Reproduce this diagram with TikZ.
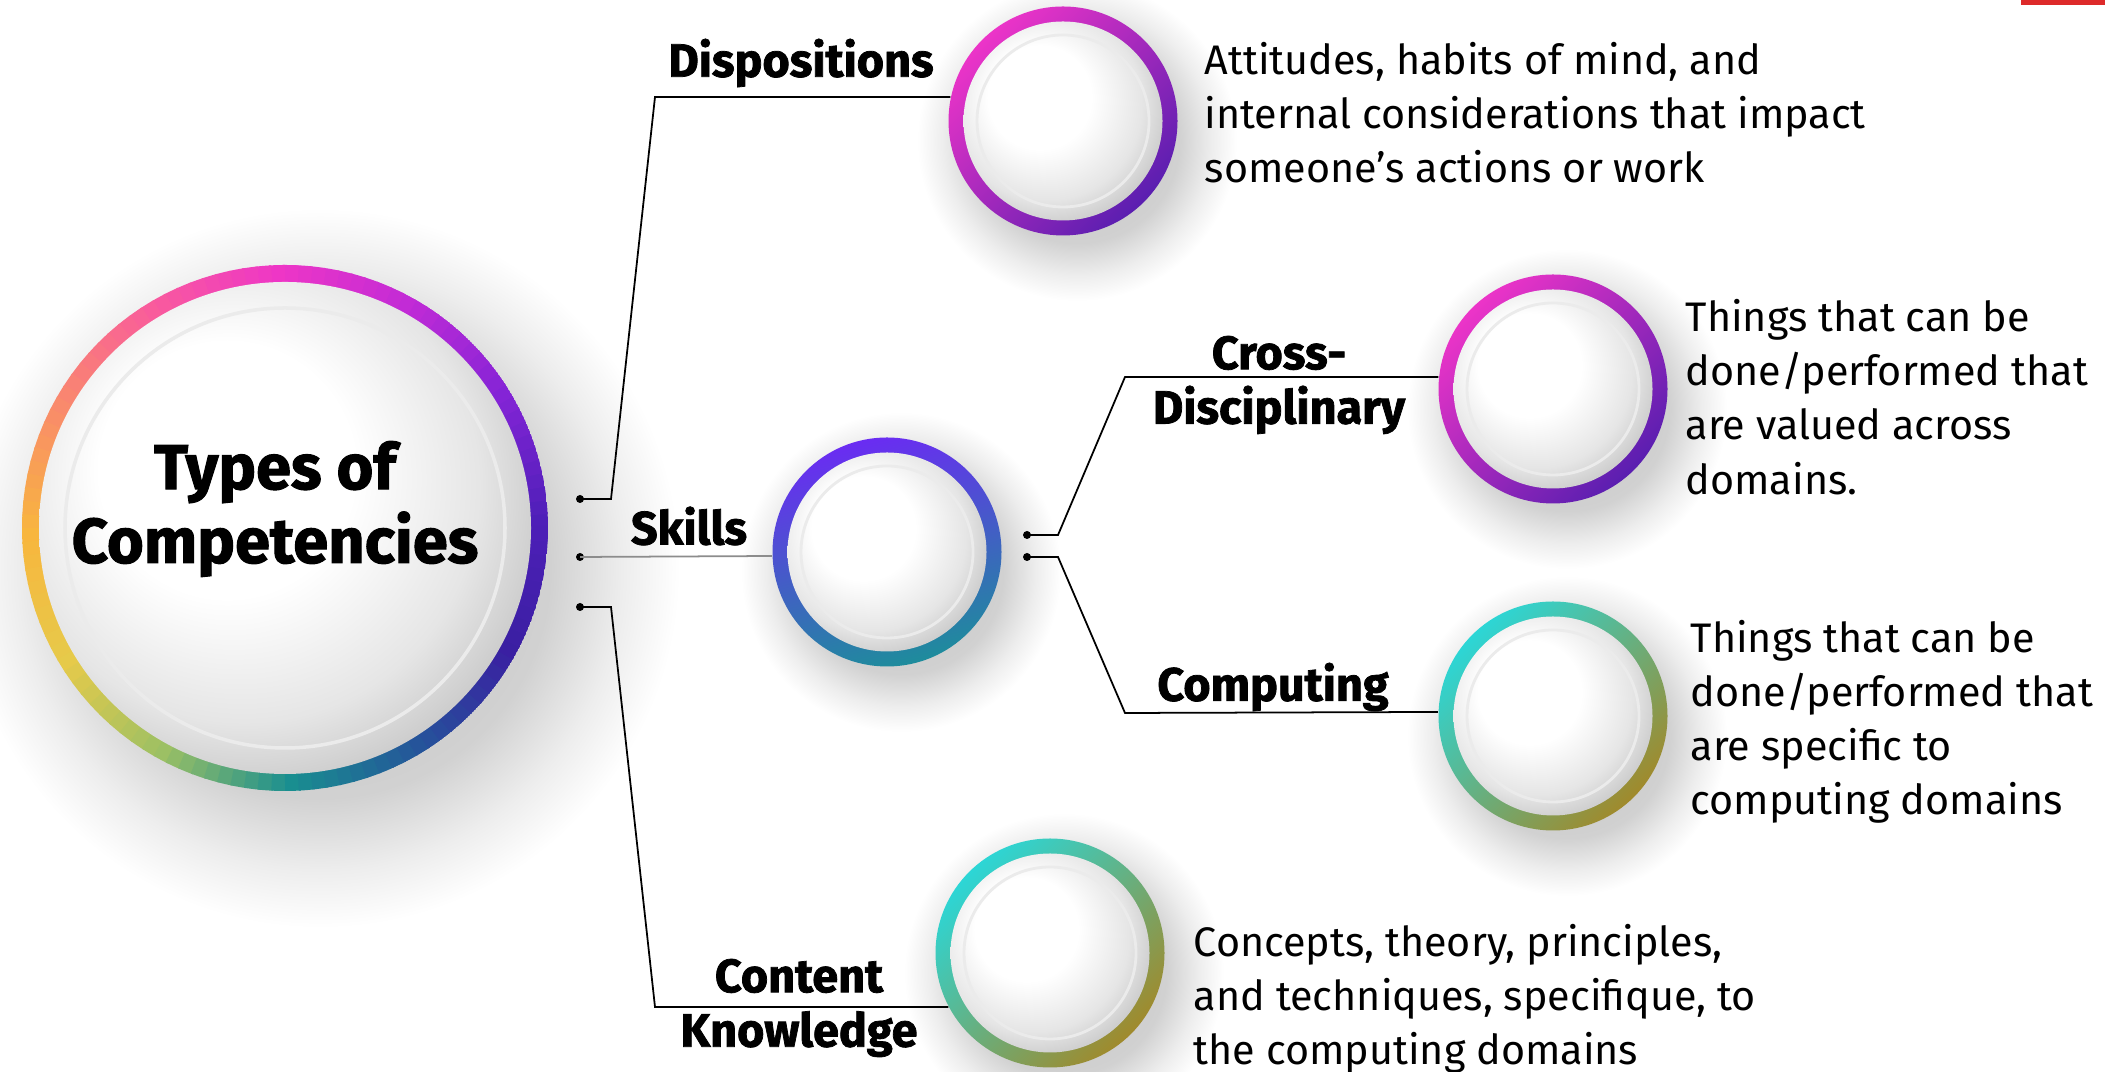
\documentclass[tikz,border=0pt]{standalone}
\usepackage{fontspec}
\setmainfont{Fira Sans}
\newfontfamily\heavyfont{Fira Sans}[FakeBold=1.6]
\usetikzlibrary{backgrounds}

% colours round the big ring, one every 30 degrees
\definecolor{ring0}{HTML}{4E1FB8}
\definecolor{ring1}{HTML}{8424D6}
\definecolor{ring2}{HTML}{C22BD6}
\definecolor{ring3}{HTML}{EE36C6}
\definecolor{ring4}{HTML}{F95C9C}
\definecolor{ring5}{HTML}{F98A6C}
\definecolor{ring6}{HTML}{F8B63E}
\definecolor{ring7}{HTML}{E6CA4A}
\definecolor{ring8}{HTML}{9CC064}
\definecolor{ring9}{HTML}{198E90}
\definecolor{ring10}{HTML}{25549A}
\definecolor{ring11}{HTML}{3A1FA2}
\colorlet{ring12}{ring0}

% small rings
\definecolor{pinkA}{HTML}{EC34C8}
\definecolor{pinkB}{HTML}{A02AD8}
\definecolor{pinkC}{HTML}{5A1EB0}
\definecolor{blueA}{HTML}{6A2CF2}
\definecolor{blueB}{HTML}{4476E2}
\definecolor{blueC}{HTML}{1E8C9C}
\definecolor{tealA}{HTML}{2CD6D6}
\definecolor{tealB}{HTML}{A8C862}
\definecolor{tealC}{HTML}{A08A2C}
\definecolor{redbar}{HTML}{DD2A2A}

\pgfdeclareradialshading{balldisk}{\pgfpoint{-8bp}{8bp}}{color(0bp)=(white); color(13bp)=(white); color(24bp)=(black!10); color(32bp)=(black!24); color(50bp)=(black!24)}
\pgfdeclareradialshading{ballshadow}{\pgfpoint{0bp}{0bp}}{color(0bp)=(black!24); color(16bp)=(black!18); color(21bp)=(black!7); color(25bp)=(white); color(50bp)=(white)}

\begin{document}
\begin{tikzpicture}[
    bubble/.style n args={4}{circle, inner sep=0pt, minimum size=2.29cm, path picture={
        \shade[top color=#1, middle color=#2, bottom color=#3, shading angle=#4]
          (path picture bounding box.center) circle (1.145);
        \shade[shading=balldisk] (path picture bounding box.center) circle (0.995);
        \draw[black!8, line width=0.8pt] (path picture bounding box.center) circle (0.86);
      }},
    bigbubble/.style={circle, inner sep=0pt, minimum size=5.26cm, path picture={
        \foreach \i in {0,...,11}{
          \pgfmathtruncatemacro{\k}{\i+1}
          \foreach \j in {0,...,9}{
            \pgfmathtruncatemacro{\p}{100-10*\j}
            \draw[color=ring\i!\p!ring\k, line width=0.18cm]
              ([shift={(\i*30+\j*3:2.54)}]path picture bounding box.center)
              arc[start angle=\i*30+\j*3, delta angle=3.5, radius=2.54];
          }
        }
        \shade[shading=balldisk] (path picture bounding box.center) circle (2.46);
        \draw[black!8, line width=1pt] (path picture bounding box.center) circle (2.2);
      }},
    dot/.style={circle, fill=black, inner sep=0pt, minimum size=0.08cm},
    link/.style={line width=0.5pt},
    lbl/.style={font=\heavyfont\bfseries\fontsize{13.3}{15.5}\selectfont, align=center},
    desc/.style={font=\fontsize{11.75}{15.4}\selectfont, align=left, anchor=west, inner sep=0pt}
  ]
  \useasboundingbox (0,0) rectangle (21.05,10.72);

  % bubbles
  \node[bigbubble] (main) at (2.85,5.44) {};
  \node[bubble={pinkA}{pinkB}{pinkC}{45}] (disp) at (10.63,9.51) {};
  \node[bubble={blueA}{blueB}{blueC}{15}] (skills) at (8.87,5.20) {};
  \node[bubble={pinkA}{pinkB}{pinkC}{45}] (cross) at (15.53,6.83) {};
  \node[bubble={tealA}{tealB}{tealC}{45}] (comp) at (15.53,3.56) {};
  \node[bubble={tealA}{tealB}{tealC}{45}] (content) at (10.50,1.19) {};

  \node[font=\heavyfont\bfseries\fontsize{18}{21}\selectfont, align=center] (ttl) at (2.75,5.63) {Types of\\Competencies};

  \begin{scope}[on background layer]
    \fill[white] (0,0) rectangle (21.05,10.72);
    \shade[shading=ballshadow] ([shift={(0.35,-0.4)}]main.center) circle (3.6);
    \foreach \n in {disp,skills,cross,comp,content}
      \shade[shading=ballshadow] ([shift={(0.14,-0.2)}]\n.center) circle (1.6);
  \end{scope}

  % dots
  \node[dot] (d1) at (5.80,5.73) {};
  \node[dot] (d2) at (5.80,5.15) {};
  \node[dot] (d3) at (5.80,4.65) {};
  \node[dot] (e1) at (10.27,5.37) {};
  \node[dot] (e2) at (10.27,5.15) {};

  % connectors
  \draw[link] (d1.center) -- ++(0.31,0) -- (6.55,9.75) -- (disp.168);
  \draw[link, black!45] (d2.center) -- (skills.182);
  \draw[link] (d3.center) -- ++(0.31,0) -- (6.55,0.65) -- (content.208);
  \draw[link] (e1.center) -- ++(0.31,0) -- (11.25,6.95) -- (cross.174);
  \draw[link] (e2.center) -- ++(0.31,0) -- (11.25,3.59) -- (comp.178);

  % labels
  \node[lbl] (ldisp) at (8.01,10.09) {Dispositions};
  \node[lbl] (lskills) at (6.89,5.46) {Skills};
  \node[lbl] (lcross) at (12.79,6.87) {Cross-\\Disciplinary};
  \node[lbl] (lcomp) at (12.73,3.85) {Computing};
  \node[lbl] (lcontent) at (7.99,0.64) {Content\\Knowledge};

  % descriptions
  \node[desc] (tdisp) at (12.04,9.59) {Attitudes, habits of mind, and\\internal considerations that impact\\someone’s actions or work};
  \node[desc] (tcross) at (16.85,6.75) {Things that can be\\done/performed that\\are valued across\\domains.};
  \node[desc] (tcomp) at (16.90,3.50) {Things that can be\\done/performed that\\are specific to\\computing domains};
  \node[desc] (tcontent) at (11.93,0.73) {Concepts, theory, principles,\\and techniques, specifique, to\\the computing domains};

  \fill[redbar] (20.21,10.665) rectangle (21.05,10.72);
\end{tikzpicture}
\end{document}
